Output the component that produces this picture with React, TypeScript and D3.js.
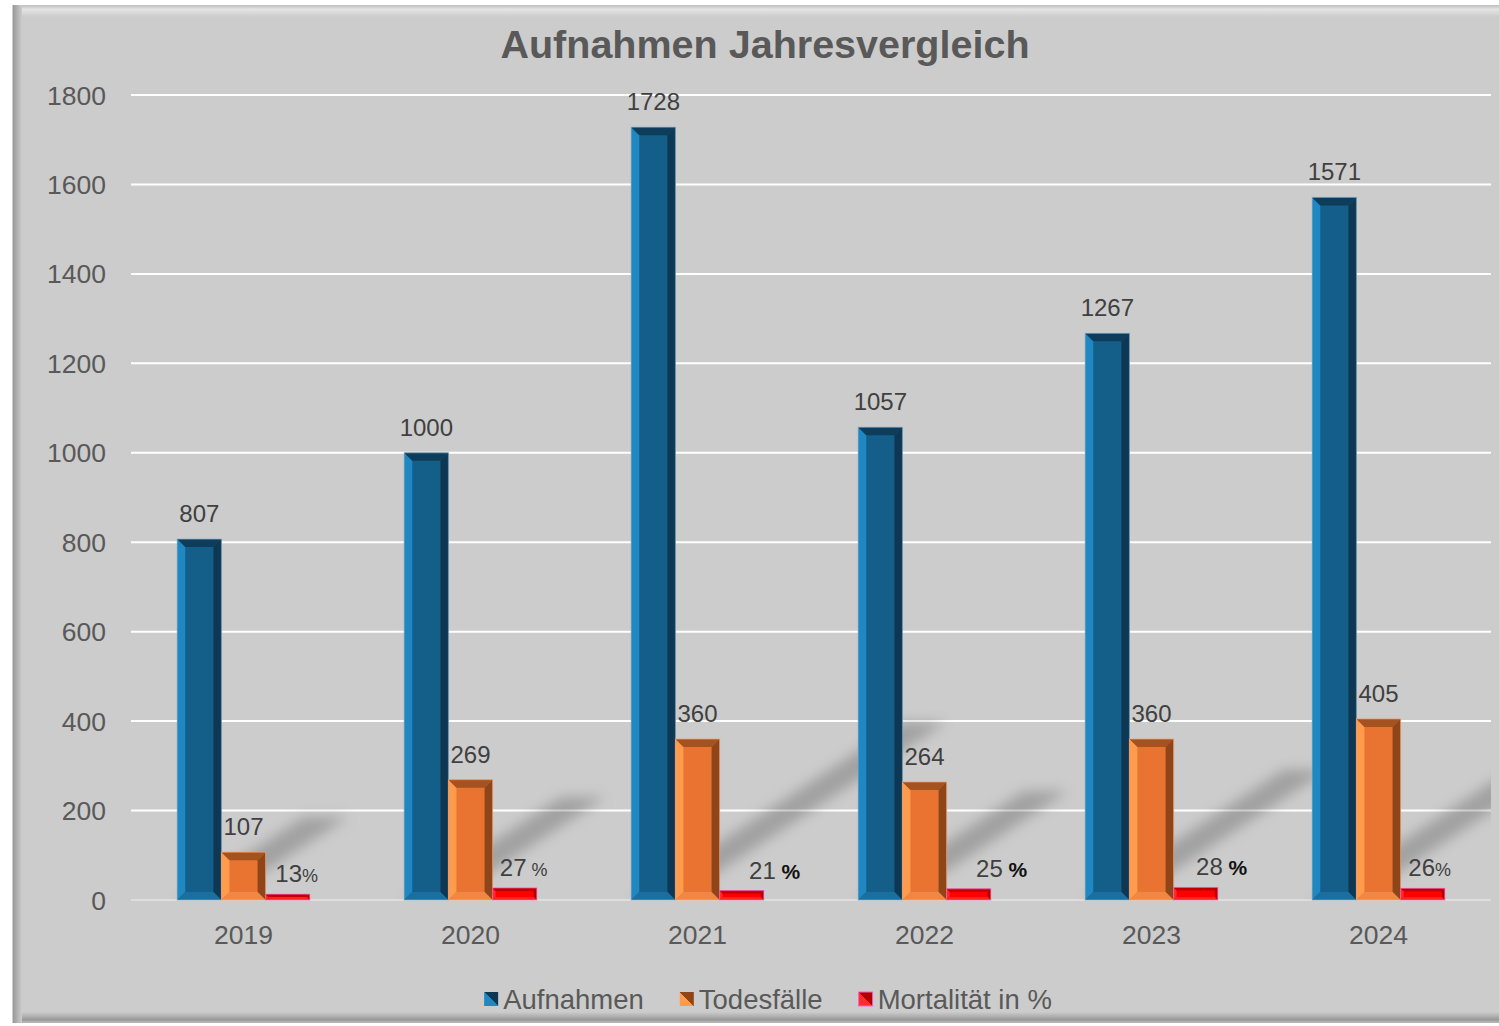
import React from "react";
import * as d3 from "d3";

const years = ["2019", "2020", "2021", "2022", "2023", "2024"];
const aufnahmen = [807, 1000, 1728, 1057, 1267, 1571];
const todesfaelle = [107, 269, 360, 264, 360, 405];
const mortalitaet = [13, 27, 21, 25, 28, 26];
const yTicks = [0, 200, 400, 600, 800, 1000, 1200, 1400, 1600, 1800];
const seriesNames = ["Aufnahmen", "Todesfälle", "Mortalität in %"];
const pctSuffix = ["%", " %", " %", " %", " %", "%"];
const pctSuffixStrong = [false, false, true, true, true, false];

// layout / style constants
const W = 1499;
const H = 1026;
const FONT = "'Liberation Sans', Arial, Helvetica, sans-serif";
const pctLabelNudge = [9, 9, 33, 33, 26, 7];

type Pal = { face: string; light: string; dark: string; top: string; bottom: string; stroke: string };
const palettes: Pal[] = [
  { face: "#145f89", light: "#1f87c2", dark: "#0d3753", top: "#0e3d5c", bottom: "#1a6f9e", stroke: "#7fa9c4" },
  { face: "#e97431", light: "#ff9b4d", dark: "#8d4519", top: "#a4521f", bottom: "#f08744", stroke: "#e9a57a" },
  { face: "#ff0000", light: "#ff2a2a", dark: "#b00000", top: "#c00000", bottom: "#ff2020", stroke: "#ee66c8" },
];

function Bar({ x, y, w, h, pal, bevel }: { x: number; y: number; w: number; h: number; pal: Pal; bevel: number }) {
  const b = Math.min(bevel, h / 2, w / 2);
  const pts = (a: number[][]) => a.map((p) => p.join(",")).join(" ");
  return (
    <g>
      <rect x={x} y={y} width={w} height={h} fill={pal.face} />
      <polygon points={pts([[x, y], [x + b, y + b], [x + b, y + h - b], [x, y + h]])} fill={pal.light} />
      <polygon points={pts([[x + w, y], [x + w - b, y + b], [x + w - b, y + h - b], [x + w, y + h]])} fill={pal.dark} />
      <polygon points={pts([[x, y], [x + w, y], [x + w - b, y + b], [x + b, y + b]])} fill={pal.top} />
      <polygon points={pts([[x, y + h], [x + w, y + h], [x + w - b, y + h - b], [x + b, y + h - b]])} fill={pal.bottom} />
      <rect x={x} y={y} width={w} height={h} fill="none" stroke={pal.stroke} strokeWidth={1} strokeOpacity={0.7} />
    </g>
  );
}

function measure(text: string, font: string): number {
  const c = document.createElement("canvas").getContext("2d");
  if (!c) return text.length * 14;
  c.font = font;
  return c.measureText(text).width;
}

export default function App() {
  const x0 = d3.scaleBand<string>().domain(years).range([130, 1492]).paddingInner(0).paddingOuter(0);
  const x1 = d3
    .scaleBand<number>()
    .domain([0, 1, 2])
    .range([0, x0.bandwidth()])
    .paddingInner(0)
    .paddingOuter(1.07);
  const y = d3.scaleLinear().domain([0, 1800]).range([900, 95]);
  const base = y(0);
  const bw = x1.bandwidth();
  const series = [aufnahmen, todesfaelle, mortalitaet];

  // legend layout
  const legFont = `27.5px ${FONT}`;
  const legWidths = seriesNames.map((s) => measure(s, legFont));
  const mk = 14;
  const mkGap = 5;
  const itemGap = 36;
  const totalLeg = legWidths.reduce((a, w) => a + mk + mkGap + w, 0) + itemGap * (seriesNames.length - 1);
  let legX = 768 - totalLeg / 2;
  const legItems = seriesNames.map((s, i) => {
    const it = { name: s, x: legX, i };
    legX += mk + mkGap + legWidths[i] + itemGap;
    return it;
  });

  return (
    <svg
      width={W}
      height={H}
      style={{ position: "absolute", left: 0, top: 0, display: "block" }}
      fontFamily={FONT}
    >
      <defs>
        <linearGradient id="leftEdge" x1="0" x2="1" y1="0" y2="0">
          <stop offset="0" stopColor="#e6e6e6" />
          <stop offset="0.15" stopColor="#9c9c9c" />
          <stop offset="1" stopColor="#cccccc" />
        </linearGradient>
        <linearGradient id="topEdge" x1="0" x2="0" y1="0" y2="1">
          <stop offset="0" stopColor="#bdbdbd" />
          <stop offset="0.35" stopColor="#e4e4e4" />
          <stop offset="1" stopColor="#cccccc" />
        </linearGradient>
        <linearGradient id="bottomEdge" x1="0" x2="0" y1="0" y2="1">
          <stop offset="0" stopColor="#cccccc" />
          <stop offset="0.7" stopColor="#999999" />
          <stop offset="1" stopColor="#bdbdbd" />
        </linearGradient>
        <filter id="blurShadow" x="-50%" y="-50%" width="200%" height="200%">
          <feGaussianBlur stdDeviation="6.5" />
        </filter>
        <clipPath id="plotClip">
          <rect x={131} y={60} width={1360} height={base - 60} />
        </clipPath>
        {palettes.map((p, i) => (
          <linearGradient key={i} id={`leg${i}`} x1="0" y1="1" x2="1" y2="0">
            <stop offset="0.5" stopColor={p.light} />
            <stop offset="0.5" stopColor={p.dark} />
          </linearGradient>
        ))}
      </defs>

      {/* frame */}
      <rect x={0} y={0} width={W} height={H} fill="#ffffff" />
      <rect x={13} y={5} width={W - 13} height={1018} fill="#cccccc" />
      <rect x={13} y={1012} width={W - 13} height={11} fill="url(#bottomEdge)" />
      <rect x={13} y={5} width={W - 13} height={12} fill="url(#topEdge)" />
      <rect x={12} y={5} width={10} height={1018} fill="url(#leftEdge)" />

      {/* title */}
      <text x={765} y={58} textAnchor="middle" fontSize={39.5} fontWeight="bold" fill="#595959">
        Aufnahmen Jahresvergleich
      </text>

      {/* gridlines */}
      {yTicks.map((t) => (
        <line
          key={t}
          x1={131}
          x2={1491}
          y1={y(t)}
          y2={y(t)}
          stroke={t === 0 ? "#dedede" : "#ffffff"}
          strokeWidth={2}
        />
      ))}
      {yTicks.map((t) => (
        <text key={`l${t}`} x={106} y={y(t) + 9.5} textAnchor="end" fontSize={26.5} fill="#595959">
          {t}
        </text>
      ))}

      {/* cast shadows of the tall bars */}
      <g clipPath="url(#plotClip)">
        {years.map((yr, i) => {
          const bx = (x0(yr) as number) + (x1(0) as number);
          const hPx = base - y(aufnahmen[i]);
          const dx = 0.35 * hPx;
          const dy = -0.23 * hPx;
          const pts = [
            [bx, base],
            [bx + bw, base],
            [bx + bw + dx, base + dy],
            [bx + dx, base + dy],
          ]
            .map((p) => p.join(","))
            .join(" ");
          return <polygon key={yr} points={pts} fill="#000" fillOpacity={0.21} filter="url(#blurShadow)" />;
        })}
      </g>

      {/* bars */}
      {years.map((yr, i) =>
        series.map((s, k) => {
          const bx = (x0(yr) as number) + (x1(k) as number);
          const top = y(s[i]);
          return (
            <Bar
              key={`${yr}-${k}`}
              x={bx}
              y={top}
              w={bw}
              h={base - top}
              pal={palettes[k]}
              bevel={k === 2 ? 3 : 8}
            />
          );
        })
      )}

      {/* value labels */}
      {years.map((yr, i) =>
        [0, 1].map((k) => {
          const cx = (x0(yr) as number) + (x1(k) as number) + bw / 2;
          return (
            <text
              key={`v${yr}${k}`}
              x={cx}
              y={y(series[k][i]) - 17}
              textAnchor="middle"
              fontSize={24}
              fill="#404040"
            >
              {series[k][i]}
            </text>
          );
        })
      )}
      {years.map((yr, i) => {
        const cx = (x0(yr) as number) + (x1(2) as number) + bw / 2 + pctLabelNudge[i];
        const strong = pctSuffixStrong[i];
        return (
          <text key={`p${yr}`} x={cx} y={y(mortalitaet[i]) - 12} textAnchor="middle" fontSize={24} fill="#404040">
            {mortalitaet[i]}
            <tspan
              fontSize={strong ? 21 : 18}
              fill={strong ? "#111111" : "#404040"}
              fontWeight={strong ? 600 : 400}
            >
              {pctSuffix[i]}
            </tspan>
          </text>
        );
      })}

      {/* category labels */}
      {years.map((yr) => (
        <text
          key={`c${yr}`}
          x={(x0(yr) as number) + x0.bandwidth() / 2}
          y={944}
          textAnchor="middle"
          fontSize={26.5}
          fill="#595959"
        >
          {yr}
        </text>
      ))}

      {/* legend */}
      {legItems.map((it) => (
        <g key={it.name}>
          <rect
            x={it.x}
            y={992}
            width={mk}
            height={mk}
            fill={`url(#leg${it.i})`}
            stroke={it.i === 2 ? "#ee66c8" : "none"}
            strokeWidth={1}
          />
          <text x={it.x + mk + mkGap} y={1009} fontSize={27.5} fill="#595959">
            {it.name}
          </text>
        </g>
      ))}
    </svg>
  );
}
